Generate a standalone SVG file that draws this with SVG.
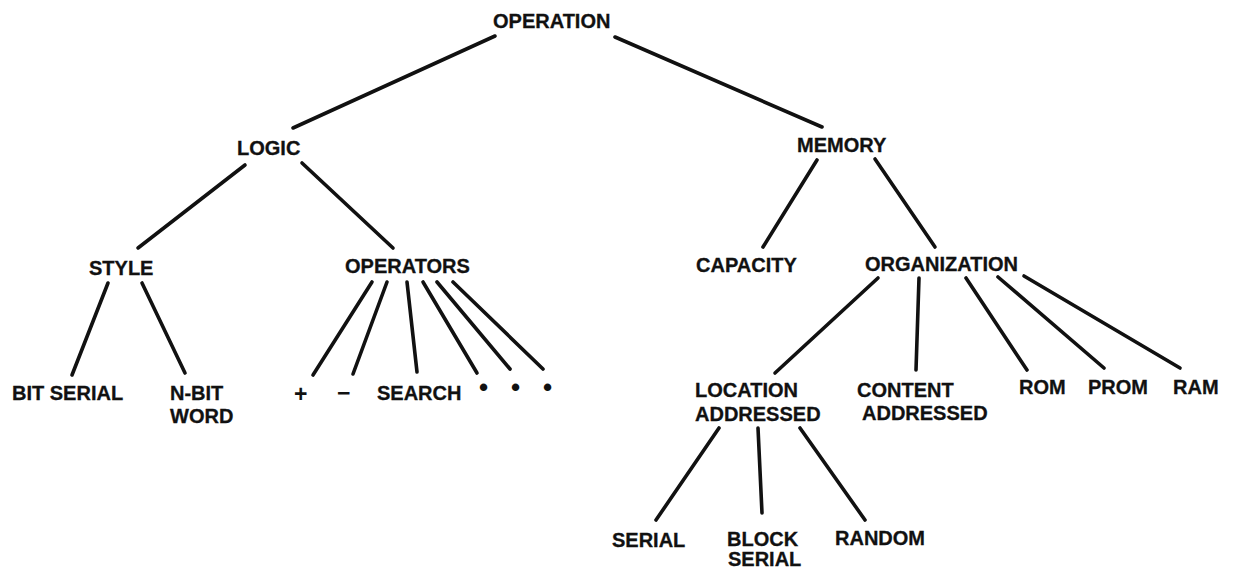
<svg xmlns="http://www.w3.org/2000/svg" width="1233" height="570" viewBox="0 0 1233 570">
<style>
.t{font-family:"Liberation Sans",Arial,sans-serif;font-weight:bold;font-size:20px;fill:#111;stroke:#111;stroke-width:0.3}
.s{font-family:"Liberation Sans",Arial,sans-serif;font-weight:bold;font-size:23px;fill:#111}
.d{font-family:"Liberation Sans",Arial,sans-serif;font-weight:bold;font-size:26px;fill:#111}
.e line{stroke:#111;stroke-width:3.6;stroke-linecap:round}
</style>
<rect width="1233" height="570" fill="#fff"/>
<g id="connectors" class="e">
<line x1="495" y1="36" x2="293" y2="128"/>
<line x1="615" y1="37" x2="822" y2="127"/>
<line x1="245" y1="165" x2="138" y2="248"/>
<line x1="302" y1="163" x2="393" y2="248"/>
<line x1="817" y1="160" x2="763" y2="247"/>
<line x1="875" y1="159" x2="935" y2="247"/>
<line x1="108" y1="283" x2="72" y2="375"/>
<line x1="142" y1="283" x2="185" y2="373"/>
<line x1="372" y1="282" x2="313" y2="375"/>
<line x1="387" y1="282" x2="353" y2="374"/>
<line x1="407" y1="282" x2="417" y2="372"/>
<line x1="423" y1="282" x2="477" y2="373"/>
<line x1="437" y1="282" x2="510" y2="369"/>
<line x1="453" y1="282" x2="543" y2="369"/>
<line x1="878" y1="278" x2="775" y2="373"/>
<line x1="919" y1="278" x2="916" y2="370"/>
<line x1="966" y1="278" x2="1027" y2="370"/>
<line x1="998" y1="277" x2="1104" y2="368"/>
<line x1="1024" y1="276" x2="1180" y2="368"/>
<line x1="719" y1="428" x2="656" y2="520"/>
<line x1="758" y1="428" x2="762" y2="513"/>
<line x1="800" y1="428" x2="865" y2="520"/>
</g>
<g id="operation"><text class="t" x="493" y="28">OPERATION</text></g>
<g id="logic"><text class="t" x="237" y="155">LOGIC</text></g>
<g id="memory"><text class="t" x="797" y="152">MEMORY</text></g>
<g id="style"><text class="t" x="89" y="275">STYLE</text></g>
<g id="operators"><text class="t" x="345" y="273">OPERATORS</text></g>
<g id="capacity"><text class="t" x="696" y="272">CAPACITY</text></g>
<g id="organization"><text class="t" x="865" y="271">ORGANIZATION</text></g>
<g id="bitserial"><text class="t" x="12" y="400">BIT SERIAL</text></g>
<g id="nbitword"><text class="t" x="170" y="400">N-BIT</text><text class="t" x="170" y="423">WORD</text></g>
<g id="plus"><text class="s" x="294" y="402">+</text></g>
<g id="minus"><text class="s" x="337" y="401">−</text></g>
<g id="search"><text class="t" x="377" y="400">SEARCH</text></g>
<g id="dot1"><text class="d" x="479" y="396">•</text></g>
<g id="dot2"><text class="d" x="511" y="396">•</text></g>
<g id="dot3"><text class="d" x="543" y="396">•</text></g>
<g id="location"><text class="t" x="695" y="397">LOCATION</text><text class="t" x="695" y="421">ADDRESSED</text></g>
<g id="content"><text class="t" x="857" y="397">CONTENT</text><text class="t" x="862" y="420">ADDRESSED</text></g>
<g id="rom"><text class="t" x="1019" y="394">ROM</text></g>
<g id="prom"><text class="t" x="1088" y="394">PROM</text></g>
<g id="ram"><text class="t" x="1173" y="394">RAM</text></g>
<g id="serial"><text class="t" x="612" y="547">SERIAL</text></g>
<g id="blockserial"><text class="t" x="727" y="546">BLOCK</text><text class="t" x="728" y="566">SERIAL</text></g>
<g id="random"><text class="t" x="835" y="545">RANDOM</text></g>
</svg>
